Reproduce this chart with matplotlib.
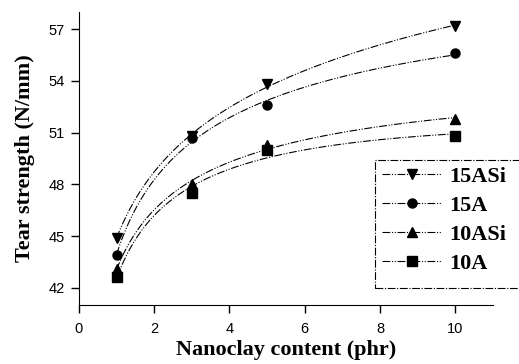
import numpy as np
import matplotlib
matplotlib.use("Agg")
import matplotlib.pyplot as plt
from matplotlib.lines import Line2D
from matplotlib.patches import Rectangle

# Nanoclay loading (phr)
nanoclay = [1, 3, 5, 10]

# Tear strength (N/mm) for each compound
tear_15asi = [44.9, 50.8, 53.8, 57.2]
tear_15a = [43.9, 50.7, 52.6, 55.6]
tear_10asi = [43.1, 48.0, 50.3, 51.8]
tear_10a = [42.6, 47.5, 50.0, 50.8]

labels = ["15ASi", "15A", "10ASi", "10A"]
markers = ["v", "o", "^", "s"]
series = [tear_15asi, tear_15a, tear_10asi, tear_10a]


def log_trend(x, y, xs):
    """Least-squares fit of y = a + b*ln(x) + c*ln(x)^2."""
    lx = np.log(x)
    A = np.vstack([np.ones_like(lx), lx, lx ** 2]).T
    coef, *_ = np.linalg.lstsq(A, y, rcond=None)
    ls = np.log(xs)
    return coef[0] + coef[1] * ls + coef[2] * ls ** 2


fig = plt.figure(figsize=(5.19, 3.64), dpi=100)
ax = fig.add_axes([0.152, 0.162, 0.798, 0.805])

dashdotdot = (0, (7, 1.5, 1, 1.5, 1, 1.5))
x = np.array(nanoclay, dtype=float)
xs = np.linspace(1, 10, 200)
handles = []
for ys, m, lab in zip(series, markers, labels):
    ys = np.array(ys)
    ax.plot(xs, log_trend(x, ys, xs), color="black", lw=0.8,
            linestyle=dashdotdot)
    ax.plot(x, ys, linestyle="none", marker=m, color="black", ms=6.5)
    handles.append(Line2D([], [], color="black", lw=0.8, linestyle=dashdotdot,
                          marker=m, ms=6.5, label=lab))

ax.set_xlim(0, 11)
ax.set_ylim(41, 58)
ax.set_xticks([0, 2, 4, 6, 8, 10])
ax.set_yticks([42, 45, 48, 51, 54, 57])
ax.spines["top"].set_visible(False)
ax.spines["right"].set_visible(False)
ax.tick_params(direction="out", length=6, width=1, labelsize=10.5)
ax.tick_params(axis="x", pad=6)
ax.tick_params(axis="y", pad=4)
for t in ax.get_xticklabels() + ax.get_yticklabels():
    t.set_fontfamily("Liberation Sans")

serif_bold = dict(family="Liberation Serif", weight="bold", size=16)
ax.set_xlabel("Nanoclay content (phr)", fontdict=serif_bold, labelpad=3)
ax.set_ylabel("Tear strength (N/mm)", fontdict=serif_bold, labelpad=10)

leg = fig.legend(handles=handles, loc="upper left",
                 bbox_to_anchor=(375 / 519, 1 - 160 / 364), frameon=False,
                 handlelength=2.7, borderaxespad=0, borderpad=0.3,
                 labelspacing=0.38, handletextpad=0.35,
                 prop=dict(family="Liberation Serif", weight="bold", size=16))
# legend box, running off the right edge of the figure
fig.patches.append(Rectangle((375 / 519, 1 - 288 / 364), 0.3, 128 / 364,
                             transform=fig.transFigure, facecolor="none",
                             edgecolor="black", lw=0.8,
                             linestyle=(0, (7, 1.5, 1, 1.5))))

fig.savefig("out.png", dpi=100)
